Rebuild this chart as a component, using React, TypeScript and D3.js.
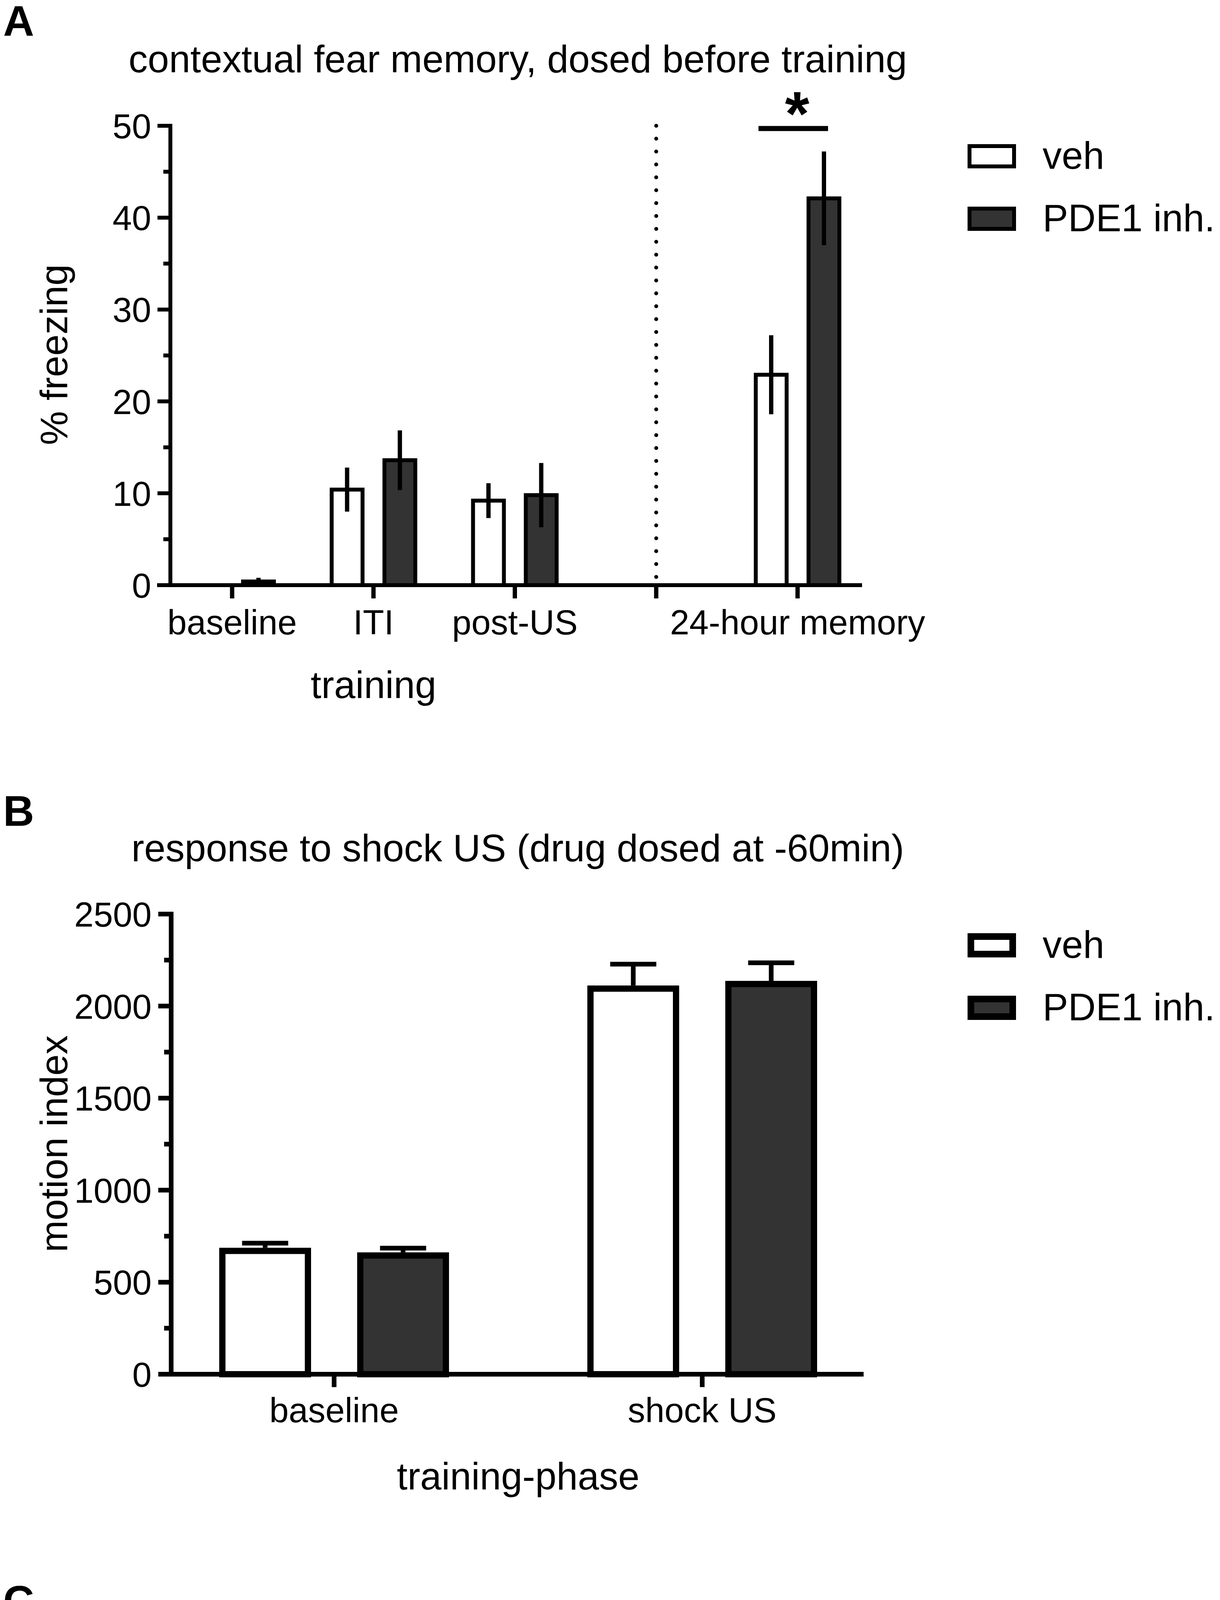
import React from "react";
import * as d3 from "d3";

// ---------- shared ----------
const FONT = "'Liberation Sans', Arial, Helvetica, sans-serif";
const SERIES = ["veh", "PDE1 inh."];
const SERIES_FILL = ["#ffffff", "#333333"];

// ---------- Panel A data ----------
const A_TITLE = "contextual fear memory, dosed before training";
const A_CATEGORIES = ["baseline", "ITI", "post-US", "", "24-hour memory"];
const A_VEH = [0, 10.4, 9.2, NaN, 22.9];
const A_VEH_SEM = [0, 2.4, 1.9, NaN, 4.3];
const A_PDE = [0.4, 13.6, 9.8, NaN, 42.1];
const A_PDE_SEM = [0.4, 3.25, 3.5, NaN, 5.1];
const A_MAJOR = [0, 10, 20, 30, 40, 50];
const A_MINOR = [5, 15, 25, 35, 45];
const A_YLABEL = "% freezing";
const A_XLABEL = "training";
const A_SIG_Y = 49.7;

// ---------- Panel B data ----------
const B_TITLE = "response to shock US (drug dosed at -60min)";
const B_CATEGORIES = ["baseline", "shock US"];
const B_VEH = [670, 2095];
const B_VEH_SEM = [42, 133];
const B_PDE = [645, 2120];
const B_PDE_SEM = [40, 115];
const B_MAJOR = [0, 500, 1000, 1500, 2000, 2500];
const B_MINOR = [250, 750, 1250, 1750, 2250];
const B_YLABEL = "motion index";
const B_XLABEL = "training-phase";

// ---------- Panel C data ----------
const C_TITLE = "contextual fear memory, dosed after training";
const C_CATEGORIES = ["+1 min", "+60 min", "-60 min"];
const C_VEH = [28.0, 26.5, 29.8];
const C_VEH_SEM = [3.7, 4.4, 4.5];
const C_PDE = [41.9, 31.5, 31.0];
const C_PDE_SEM = [5.4, 4.9, 4.2];
const C_MAJOR = [0, 10, 20, 30, 40, 50, 60];
const C_MINOR = [5, 15, 25, 35, 45, 55];
const C_YLABEL = "% freezing";
const C_REGIONS = ["post-acquisition", "pre-recall"];
const C_SIG_Y = 48.7;

type Scale = d3.ScaleLinear<number, number>;

function YAxis({ x, y, major, minor, sw, labelX }: { x: number; y: Scale; major: number[]; minor: number[]; sw: number; labelX: number }) {
  const [r0, r1] = y.range();
  return (
    <g>
      <line x1={x} x2={x} y1={r1 - sw / 2} y2={r0} stroke="#000" strokeWidth={sw} />
      {major.map((t) => (
        <line key={"M" + t} x1={x - 33} x2={x} y1={y(t)} y2={y(t)} stroke="#000" strokeWidth={sw} />
      ))}
      {minor.map((t) => (
        <line key={"m" + t} x1={x - 18} x2={x} y1={y(t)} y2={y(t)} stroke="#000" strokeWidth={sw} />
      ))}
      {major.map((t) => (
        <text key={"l" + t} x={labelX} y={y(t)} dy="0.36em" textAnchor="end" fontSize={89}>
          {t}
        </text>
      ))}
    </g>
  );
}

function Legend({ top, sw }: { top: number; sw: number }) {
  return (
    <g>
      {SERIES.map((s, i) => (
        <g key={s}>
          <rect x={2476 + sw / 2} y={top + i * 160 + sw / 2} width={124 - sw} height={62 - sw} fill={SERIES_FILL[i]} stroke="#000" strokeWidth={sw} />
          <text x={2668} y={top + i * 160 + 63} fontSize={98}>
            {s}
          </text>
        </g>
      ))}
    </g>
  );
}

function Bars({ cats, x, sub, y, vals, sems, bw, sw, esw, mode, cap }: any) {
  const y0 = y(0);
  const out: any[] = [];
  const errs: any[] = [];
  cats.forEach((c: string, i: number) => {
    SERIES.forEach((s, j) => {
      const v = vals[j][i];
      if (!isFinite(v)) return;
      const e = sems[j][i];
      const cx = (x(c) as number) + (sub(s) as number);
      out.push(
        <rect key={c + s} x={cx - bw / 2} y={y(v)} width={bw} height={y0 - y(v)} fill={SERIES_FILL[j]} stroke="#000" strokeWidth={sw} />
      );
      if (mode === "both") {
        if (e > 0)
          errs.push(<line key={"e" + c + s} x1={cx} x2={cx} y1={y(v + e)} y2={y(Math.max(0, v - e))} stroke="#000" strokeWidth={esw} />);
      } else {
        errs.push(
          <g key={"e" + c + s}>
            <line x1={cx} x2={cx} y1={y(v + e)} y2={y(v) - sw / 2} stroke="#000" strokeWidth={esw} />
            <line x1={cx - cap / 2} x2={cx + cap / 2} y1={y(v + e)} y2={y(v + e)} stroke="#000" strokeWidth={esw} />
          </g>
        );
      }
    });
  });
  return (
    <g>
      {out}
      {errs}
    </g>
  );
}

export default function App() {
  // ---- Panel A scales ----
  const yA = d3.scaleLinear().domain([0, 50]).range([1498, 322]);
  const xA = d3.scalePoint<string>().domain(A_CATEGORIES).range([594, 2041]);
  const subA = d3.scalePoint<string>().domain(SERIES).range([-67.5, 67.5]);

  // ---- Panel B scales ----
  const yB = d3.scaleLinear().domain([0, 2500]).range([3518, 2340]);
  const xB = d3.scalePoint<string>().domain(B_CATEGORIES).range([855, 1797]);
  const subB = d3.scalePoint<string>().domain(SERIES).range([-176.5, 176.5]);

  // ---- Panel C scales ----
  const yC = d3.scaleLinear().domain([0, 60]).range([5537, 4361]);
  const xC = d3.scalePoint<string>().domain(C_CATEGORIES).range([710.5, 1936]);
  const subC = d3.scalePoint<string>().domain(SERIES).range([-115.75, 115.75]);

  const a24 = xA("24-hour memory") as number;
  const c1 = xC("+1 min") as number;

  return (
    <svg
      width={3122}
      height={5674}
      viewBox="0 0 3122 5674"
      style={{ position: "absolute", left: 0, top: 0, background: "#fff" }}
      fontFamily={FONT}
      fill="#000"
    >
      <rect x={0} y={0} width={3122} height={5674} fill="#fff" />

      {/* ================= Panel A ================= */}
      <text x={8} y={91} fontSize={110} fontWeight="bold">A</text>
      <text x={1325} y={185} fontSize={98} textAnchor="middle">{A_TITLE}</text>
      <Bars cats={A_CATEGORIES} x={xA} sub={subA} y={yA} vals={[A_VEH, A_PDE]} sems={[A_VEH_SEM, A_PDE_SEM]} bw={79} sw={10} esw={11} mode="both" />
      <line x1={xA("") as number} x2={xA("") as number} y1={yA(50)} y2={yA(0)} stroke="#000" strokeWidth={10} strokeDasharray="0 33" strokeLinecap="round" />
      <line x1={402} x2={2206} y1={yA(0)} y2={yA(0)} stroke="#000" strokeWidth={10} />
      {A_CATEGORIES.map((c) => (
        <g key={"ta" + c}>
          <line x1={xA(c) as number} x2={xA(c) as number} y1={yA(0)} y2={yA(0) + 34} stroke="#000" strokeWidth={11} />
          <text x={xA(c) as number} y={yA(0) + 126} fontSize={89} textAnchor="middle">{c}</text>
        </g>
      ))}
      <YAxis x={436} y={yA} major={A_MAJOR} minor={A_MINOR} sw={10} labelX={387} />
      <text transform={`translate(172,908) rotate(-90)`} fontSize={98} textAnchor="middle">{A_YLABEL}</text>
      <text x={xA("ITI") as number} y={1787} fontSize={98} textAnchor="middle">{A_XLABEL}</text>
      <line x1={a24 - 100} x2={a24 + 78} y1={yA(A_SIG_Y)} y2={yA(A_SIG_Y)} stroke="#000" strokeWidth={13} />
      <text x={a24 - 1} y={346} fontSize={160} fontWeight="bold" textAnchor="middle">*</text>
      <Legend top={369} sw={10} />

      {/* ================= Panel B ================= */}
      <text x={8} y={2114} fontSize={110} fontWeight="bold">B</text>
      <text x={1325} y={2205} fontSize={98} textAnchor="middle">{B_TITLE}</text>
      <Bars cats={B_CATEGORIES} x={xB} sub={subB} y={yB} vals={[B_VEH, B_PDE]} sems={[B_VEH_SEM, B_PDE_SEM]} bw={219} sw={16} esw={12} mode="up" cap={118} />
      <line x1={406} x2={2210} y1={yB(0)} y2={yB(0)} stroke="#000" strokeWidth={12} />
      {B_CATEGORIES.map((c) => (
        <g key={"tb" + c}>
          <line x1={xB(c) as number} x2={xB(c) as number} y1={yB(0)} y2={yB(0) + 33} stroke="#000" strokeWidth={12} />
          <text x={xB(c) as number} y={yB(0) + 123} fontSize={89} textAnchor="middle">{c}</text>
        </g>
      ))}
      <YAxis x={438} y={yB} major={B_MAJOR} minor={B_MINOR} sw={12} labelX={388} />
      <text transform={`translate(172,2928) rotate(-90)`} fontSize={98} textAnchor="middle">{B_YLABEL}</text>
      <text x={1326} y={3813} fontSize={98} textAnchor="middle">{B_XLABEL}</text>
      <Legend top={2389} sw={17} />

      {/* ================= Panel C ================= */}
      <text x={8} y={4136} fontSize={110} fontWeight="bold">C</text>
      <text x={1325} y={4225} fontSize={98} textAnchor="middle">{C_TITLE}</text>
      <Bars cats={C_CATEGORIES} x={xC} sub={subC} y={yC} vals={[C_VEH, C_PDE]} sems={[C_VEH_SEM, C_PDE_SEM]} bw={142} sw={11} esw={11} mode="both" />
      <line x1={1637} x2={1637} y1={yC(60)} y2={yC(0)} stroke="#000" strokeWidth={10} strokeDasharray="0 35" strokeLinecap="round" />
      <line x1={409} x2={2210} y1={yC(0)} y2={yC(0)} stroke="#000" strokeWidth={11} />
      {C_CATEGORIES.map((c) => (
        <text key={"tc" + c} x={xC(c) as number} y={yC(0) + 125} fontSize={89} textAnchor="middle">{c}</text>
      ))}
      <YAxis x={442} y={yC} major={C_MAJOR} minor={C_MINOR} sw={11} labelX={390} />
      <text transform={`translate(171,4948) rotate(-90)`} fontSize={98} textAnchor="middle">{C_YLABEL}</text>
      <text x={1013} y={4407} fontSize={98} textAnchor="middle">{C_REGIONS[0]}</text>
      <text x={1924} y={4409} fontSize={98} textAnchor="middle">{C_REGIONS[1]}</text>
      <line x1={c1 - 91} x2={c1 + 111} y1={yC(C_SIG_Y)} y2={yC(C_SIG_Y)} stroke="#000" strokeWidth={12} />
      <text x={c1 + 12} y={4601} fontSize={160} fontWeight="bold" textAnchor="middle">*</text>
      <Legend top={4409} sw={11} />
    </svg>
  );
}
